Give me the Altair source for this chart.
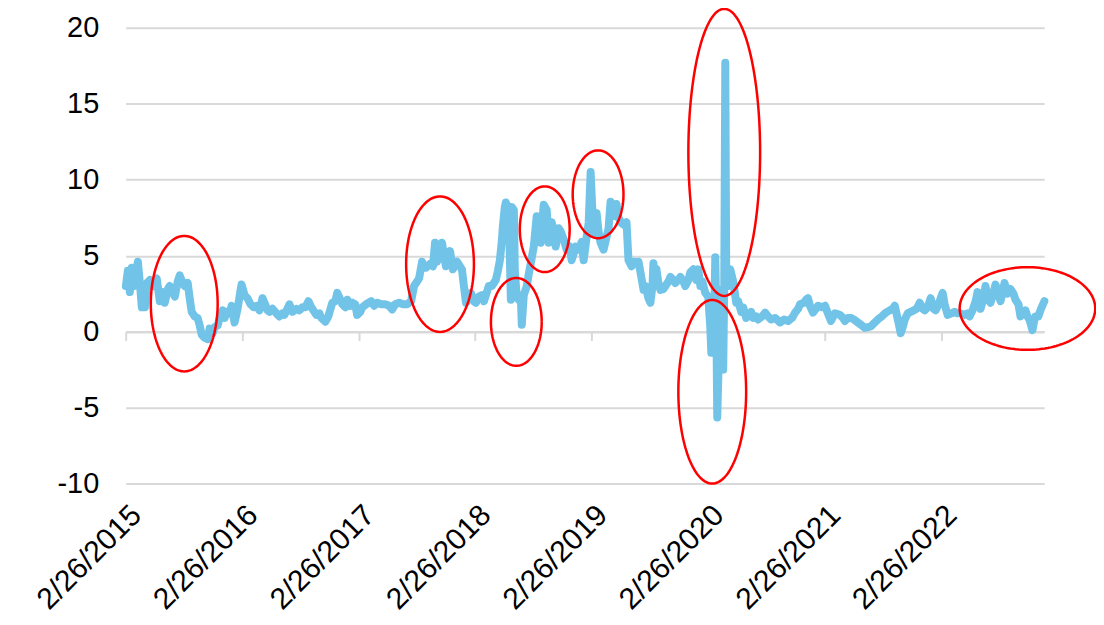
import numpy as np
import pandas as pd
import altair as alt

# decimal years (time position) and series values
years = [
    2015.155, 2015.172, 2015.189, 2015.206, 2015.224, 2015.241, 2015.258, 2015.275, 2015.292, 2015.309,
    2015.318, 2015.335, 2015.361, 2015.386, 2015.420, 2015.446, 2015.472, 2015.489, 2015.515, 2015.532,
    2015.557, 2015.575, 2015.600, 2015.617, 2015.643, 2015.660, 2015.686, 2015.703, 2015.720, 2015.746,
    2015.771, 2015.789, 2015.806, 2015.831, 2015.857, 2015.874, 2015.900, 2015.917, 2015.943, 2015.960,
    2015.985, 2016.003, 2016.020, 2016.045, 2016.063, 2016.088, 2016.114, 2016.148, 2016.174, 2016.199,
    2016.225, 2016.251, 2016.277, 2016.302, 2016.328, 2016.345, 2016.371, 2016.388, 2016.414, 2016.448,
    2016.473, 2016.499, 2016.516, 2016.542, 2016.559, 2016.585, 2016.619, 2016.645, 2016.670, 2016.696,
    2016.722, 2016.747, 2016.773, 2016.790, 2016.816, 2016.833, 2016.867, 2016.893, 2016.927, 2016.953,
    2016.970, 2016.996, 2017.013, 2017.039, 2017.056, 2017.081, 2017.099, 2017.124, 2017.141, 2017.167,
    2017.184, 2017.218, 2017.261, 2017.287, 2017.313, 2017.347, 2017.381, 2017.415, 2017.441, 2017.467,
    2017.501, 2017.535, 2017.569, 2017.604, 2017.629, 2017.655, 2017.672, 2017.698, 2017.715, 2017.732,
    2017.758, 2017.775, 2017.792, 2017.809, 2017.826, 2017.843, 2017.869, 2017.886, 2017.903, 2017.920,
    2017.938, 2017.963, 2017.980, 2017.998, 2018.023, 2018.040, 2018.057, 2018.075, 2018.100, 2018.117,
    2018.143, 2018.160, 2018.186, 2018.212, 2018.229, 2018.254, 2018.271, 2018.297, 2018.331, 2018.349,
    2018.366, 2018.383, 2018.391, 2018.408, 2018.417, 2018.434, 2018.443, 2018.451, 2018.460, 2018.468,
    2018.486, 2018.494, 2018.511, 2018.528, 2018.545, 2018.554, 2018.571, 2018.597, 2018.614, 2018.631,
    2018.657, 2018.682, 2018.700, 2018.717, 2018.742, 2018.768, 2018.785, 2018.811, 2018.828, 2018.845,
    2018.871, 2018.888, 2018.914, 2018.939, 2018.965, 2018.982, 2019.016, 2019.042, 2019.068, 2019.085,
    2019.111, 2019.128, 2019.145, 2019.162, 2019.179, 2019.196, 2019.213, 2019.230, 2019.256, 2019.282,
    2019.299, 2019.316, 2019.342, 2019.367, 2019.384, 2019.410, 2019.436, 2019.453, 2019.470, 2019.496,
    2019.521, 2019.539, 2019.556, 2019.573, 2019.599, 2019.616, 2019.641, 2019.658, 2019.676, 2019.684,
    2019.701, 2019.710, 2019.727, 2019.744, 2019.770, 2019.787, 2019.813, 2019.830, 2019.855, 2019.872,
    2019.898, 2019.915, 2019.941, 2019.958, 2019.984, 2020.001, 2020.027, 2020.052, 2020.069, 2020.087,
    2020.104, 2020.129, 2020.155, 2020.164, 2020.172, 2020.181, 2020.189, 2020.198, 2020.206, 2020.215,
    2020.224, 2020.232, 2020.241, 2020.249, 2020.258, 2020.266, 2020.275, 2020.283, 2020.292, 2020.301,
    2020.309, 2020.326, 2020.343, 2020.369, 2020.395, 2020.412, 2020.438, 2020.455, 2020.480, 2020.497,
    2020.523, 2020.540, 2020.566, 2020.583, 2020.617, 2020.643, 2020.669, 2020.694, 2020.729, 2020.771,
    2020.806, 2020.840, 2020.874, 2020.900, 2020.926, 2020.943, 2020.977, 2020.994, 2021.011, 2021.028,
    2021.054, 2021.080, 2021.097, 2021.131, 2021.157, 2021.182, 2021.208, 2021.242, 2021.268, 2021.285,
    2021.311, 2021.328, 2021.354, 2021.379, 2021.405, 2021.439, 2021.474, 2021.499, 2021.525, 2021.551,
    2021.585, 2021.611, 2021.645, 2021.679, 2021.713, 2021.739, 2021.756, 2021.782, 2021.807, 2021.825,
    2021.842, 2021.867, 2021.893, 2021.919, 2021.944, 2021.970, 2021.996, 2022.013, 2022.039, 2022.064,
    2022.090, 2022.107, 2022.133, 2022.150, 2022.167, 2022.184, 2022.210, 2022.244, 2022.270, 2022.295,
    2022.321, 2022.355, 2022.381, 2022.398, 2022.424, 2022.450, 2022.467, 2022.492, 2022.518, 2022.535,
    2022.552, 2022.578, 2022.604, 2022.621, 2022.646, 2022.664, 2022.681, 2022.698, 2022.724, 2022.749,
    2022.775, 2022.792, 2022.818, 2022.835, 2022.860, 2022.878, 2022.895, 2022.912, 2022.938, 2022.955,
    2022.963, 2022.989, 2023.006, 2023.023, 2023.040,
]
values = [
    3.0, 4.0, 2.6, 4.2, 3.0, 3.8, 4.6, 3.2, 1.6, 2.2,
    1.6, 3.2, 3.4, 3.0, 3.5, 2.0, 2.6, 1.9, 2.8, 3.0,
    2.6, 2.3, 3.3, 3.7, 3.2, 3.0, 3.2, 2.2, 1.3, 1.0,
    0.9, 0.4, -0.2, -0.4, -0.5, 0.2, -0.1, 0.3, 0.4, 0.9,
    1.4, 0.9, 1.3, 1.2, 1.7, 0.6, 1.5, 3.1, 2.4, 2.2,
    1.8, 1.6, 1.7, 1.4, 2.2, 1.9, 1.4, 1.3, 1.5, 1.2,
    1.0, 1.2, 1.1, 1.5, 1.8, 1.3, 1.5, 1.4, 1.6, 1.6,
    2.0, 1.6, 1.3, 1.1, 1.2, 0.9, 0.65, 1.0, 1.9, 2.0,
    2.55, 2.1, 1.8, 1.6, 2.1, 1.7, 1.9, 1.8, 1.1, 1.3,
    1.6, 1.8, 2.0, 1.7, 1.9, 1.8, 1.8, 1.7, 1.45, 1.8,
    1.9, 1.8, 1.8, 2.0, 3.0, 3.3, 3.5, 4.6, 4.2, 4.2,
    4.4, 4.5, 4.3, 5.85, 4.6, 5.0, 5.85, 5.0, 4.3, 4.6,
    5.3, 4.1, 4.5, 4.6, 4.3, 4.1, 3.0, 1.9, 2.2, 2.55,
    2.0, 1.9, 2.3, 2.4, 2.0, 2.6, 3.0, 3.0, 3.4, 4.0,
    4.7, 6.0, 6.9, 8.2, 8.5, 8.2, 8.0, 5.0, 2.1, 8.2,
    8.0, 4.0, 2.3, 2.1, 2.4, 0.45, 2.4, 3.0, 3.8, 4.5,
    5.6, 7.6, 6.5, 5.85, 8.35, 8.0, 5.85, 7.2, 6.5, 5.6,
    6.8, 6.6, 6.05, 5.4, 5.6, 4.7, 5.6, 5.4, 5.9, 4.7,
    6.25, 7.15, 10.5, 7.6, 6.5, 7.8, 6.6, 5.85, 5.4, 6.25,
    6.8, 8.55, 7.6, 8.4, 7.5, 7.15, 7.0, 7.2, 4.7, 4.3,
    4.6, 4.5, 4.6, 3.9, 2.75, 3.0, 2.2, 1.9, 3.0, 4.5,
    3.5, 4.1, 3.2, 2.75, 2.8, 3.0, 3.3, 3.6, 3.4, 3.2,
    3.4, 3.6, 3.3, 3.0, 3.4, 3.9, 4.1, 3.4, 4.1, 3.0,
    3.3, 2.55, 2.3, 1.2, 0.35, -1.4, 1.0, -0.8, 0.5, 4.9,
    1.0, -5.65, -3.0, -1.5, -2.3, 2.75, 0.0, -2.5, 3.0, 17.7,
    3.6, 3.0, 4.1, 3.3, 1.9, 2.0, 1.3, 1.6, 0.9, 1.0,
    1.3, 0.9, 1.0, 0.8, 1.0, 1.25, 1.0, 0.8, 0.9, 0.6,
    0.8, 0.7, 0.9, 1.25, 1.5, 1.8, 1.9, 2.1, 2.2, 1.7,
    1.25, 1.5, 1.7, 1.6, 1.7, 1.2, 0.7, 1.2, 1.15, 1.1,
    0.9, 0.7, 0.9, 0.9, 0.8, 0.6, 0.4, 0.25, 0.3, 0.35,
    0.6, 0.8, 1.0, 1.25, 1.4, 1.5, 1.7, 0.8, -0.1, 0.3,
    0.8, 1.2, 1.3, 1.4, 1.5, 1.9, 1.5, 1.4, 1.6, 2.2,
    1.5, 1.4, 1.8, 2.2, 2.55, 1.8, 1.1, 1.2, 1.3, 1.2,
    1.2, 1.1, 1.2, 1.0, 1.4, 2.0, 2.6, 1.5, 2.2, 3.0,
    2.2, 1.9, 2.6, 3.1, 2.4, 2.0, 2.6, 3.2, 2.5, 2.8,
    2.5, 2.1, 1.8, 1.0, 1.3, 1.4, 1.0, 0.8, 0.1, 0.8,
    1.0, 1.0, 1.4, 1.7, 2.0,
]

# annotation ellipses: centre (decimal year, value) and semi-axes (years, value units)
ell_cx = [2015.656, 2017.852, 2018.507, 2018.751, 2019.209, 2020.292, 2020.189, 2022.895]
ell_rx = [0.287, 0.291, 0.218, 0.214, 0.218, 0.308, 0.291, 0.582]
ell_cy = [1.84, 4.44, 0.64, 6.74, 9.04, 11.80, -3.96, 1.52]
ell_ry = [4.46, 4.46, 2.89, 2.82, 2.89, 9.45, 6.04, 2.72]

tick_years = [2015, 2016, 2017, 2018, 2019, 2020, 2021, 2022]
y_ticks = [-10, -5, 0, 5, 10, 15, 20]


def to_date(yrs):
    base = pd.Timestamp("2015-01-01")
    return base + pd.to_timedelta((np.asarray(yrs, dtype=float) - 2015.0) * 365.25, unit="D")


n = min(len(years), len(values))
line_df = pd.DataFrame({"date": to_date(years[:n]), "value": values[:n]})

rows = []
t = np.linspace(0, 2 * np.pi, 145)
for i in range(len(ell_cx)):
    xs = ell_cx[i] + ell_rx[i] * np.cos(t)
    ys = ell_cy[i] + ell_ry[i] * np.sin(t)
    for k in range(len(t)):
        rows.append({"id": i, "k": k, "yr": xs[k], "value": ys[k]})
ell_df = pd.DataFrame(rows)
ell_df["date"] = to_date(ell_df["yr"])
ell_df = ell_df[["id", "k", "date", "value"]]

FONT = "Liberation Sans"
GRID = "#D9D9D9"
tick_vals = [alt.DateTime(year=y, month=2, date=26) for y in tick_years]
x_scale = alt.Scale(domain=[alt.DateTime(year=2015, month=2, date=26),
                            alt.DateTime(year=2023, month=1, date=15)])
y_scale = alt.Scale(domain=[-10, 20], nice=False, zero=False)

W, H = 921, 457
zero_offset = -(H - H * 20 / 30)

y_axis = alt.Axis(values=y_ticks, labelFontSize=29, labelFont=FONT, labelColor="#000000",
                  labelExpr="replace(datum.label, '\u2212', '-')",
                  domain=False, ticks=False, grid=True, gridColor=GRID, gridWidth=2,
                  labelPadding=27, title=None)

line = alt.Chart(line_df).mark_line(
    color="#71C4E8", strokeWidth=8, strokeJoin="round", strokeCap="round"
).encode(
    x=alt.X("date:T", scale=x_scale,
            axis=alt.Axis(orient="bottom", values=tick_vals, labels=False, grid=False,
                          domain=True, domainColor=GRID, domainWidth=2, ticks=True,
                          tickColor=GRID, tickWidth=2, tickSize=9, offset=zero_offset,
                          title=None)),
    y=alt.Y("value:Q", scale=y_scale, axis=y_axis),
)

ellipses = alt.Chart(ell_df).mark_line(
    color="#FF0000", strokeWidth=2.5, clip=False
).encode(
    x=alt.X("date:T", scale=x_scale,
            axis=alt.Axis(orient="bottom", values=tick_vals, format="%-m/%d/%Y",
                          labelAngle=-45, labelFontSize=30, labelFont=FONT,
                          labelColor="#000000", labelFlush=False, labelOverlap=False,
                          labelBound=False, domain=False, ticks=False, grid=False,
                          labelPadding=16, title=None)),
    y=alt.Y("value:Q", scale=y_scale, axis=y_axis),
    detail="id:N",
    order="k:Q",
)

chart = alt.layer(line, ellipses).resolve_axis(x="independent").properties(
    width=W, height=H,
    autosize=alt.AutoSizeParams(type="none"),
    padding={"left": 118, "top": 19, "right": 52, "bottom": 130},
).configure(
    font=FONT,
    view=alt.ViewConfig(stroke="transparent", strokeWidth=0),
)

chart.save("out.html", embed_options={"renderer": "svg", "actions": False})
